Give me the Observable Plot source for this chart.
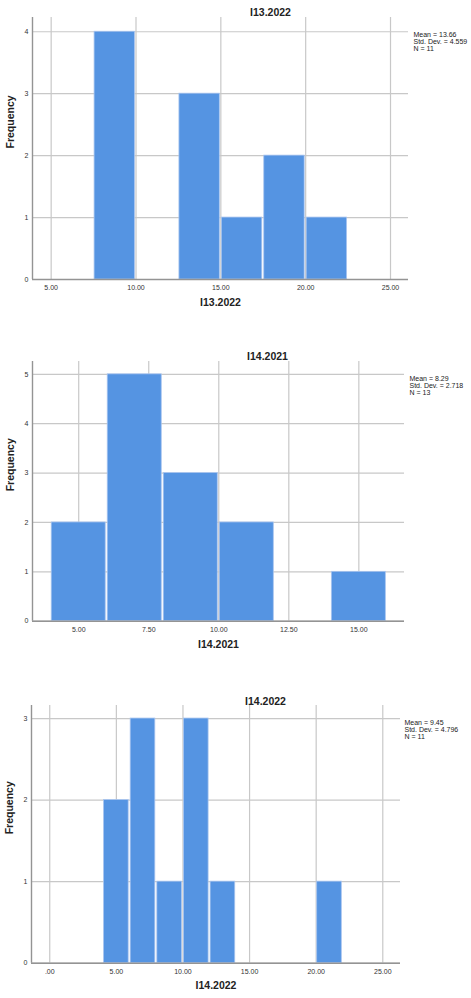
<!DOCTYPE html>
<html>
<head>
<meta charset="utf-8">
<script src="https://cdn.jsdelivr.net/npm/d3@7"></script>
<script src="https://cdn.jsdelivr.net/npm/@observablehq/plot@0.6"></script>
<style>
  html, body { margin: 0; padding: 0; background: #fff; }
  #charts svg { display: block; }
</style>
</head>
<body>
<div id="charts"></div>
<script>
// ---- Chart 1: I13.2022 ----
const c1Title = "I13.2022";
const c1BinStart = [7.5, 12.5, 15, 17.5, 20];
const c1BinEnd   = [10, 15, 17.5, 20, 22.5];
const c1Counts   = [4, 3, 1, 2, 1];
const c1XTicks   = [5, 10, 15, 20, 25];
const c1YTicks   = [0, 1, 2, 3, 4];
const c1Stats    = ["Mean = 13.66", "Std. Dev. = 4.559", "N = 11"];

// ---- Chart 2: I14.2021 ----
const c2Title = "I14.2021";
const c2BinStart = [4, 6, 8, 10, 14];
const c2BinEnd   = [6, 8, 10, 12, 16];
const c2Counts   = [2, 5, 3, 2, 1];
const c2XTicks   = [5, 7.5, 10, 12.5, 15];
const c2YTicks   = [0, 1, 2, 3, 4, 5];
const c2Stats    = ["Mean = 8.29", "Std. Dev. = 2.718", "N = 13"];

// ---- Chart 3: I14.2022 ----
const c3Title = "I14.2022";
const c3BinStart = [4, 6, 8, 10, 12, 20];
const c3BinEnd   = [6, 8, 10, 12, 14, 22];
const c3Counts   = [2, 3, 1, 3, 1, 1];
const c3XTicks   = [0, 5, 10, 15, 20, 25];
const c3YTicks   = [0, 1, 2, 3];
const c3Stats    = ["Mean = 9.45", "Std. Dev. = 4.796", "N = 11"];

const FONT = "'Liberation Sans', Arial, sans-serif";
const fmtX = d => d === 0 ? ".00" : d.toFixed(2);

function histogram(cfg) {
  const bins = cfg.start.map((s, i) => ({x1: s, x2: cfg.end[i], y: cfg.counts[i]}));
  return Plot.plot({
    width: 471,
    height: cfg.height,
    marginLeft: cfg.ml, marginRight: cfg.mr, marginTop: cfg.mt, marginBottom: cfg.mb,
    style: {fontFamily: FONT, background: "#fff", color: "#222"},
    x: {domain: cfg.xDomain},
    y: {domain: cfg.yDomain},
    marks: [
      Plot.gridX(cfg.xTicks, {stroke: "#c8c8c8", strokeOpacity: 1, strokeWidth: 1.2}),
      Plot.gridY(cfg.yTicks, {stroke: "#c8c8c8", strokeOpacity: 1, strokeWidth: 1.2}),
      Plot.rectY(bins, {x1: "x1", x2: "x2", y: "y", fill: "#5594e2", stroke: "#a9c5ef", strokeWidth: 0.8, insetLeft: 1, insetRight: 1}),
      Plot.ruleX([cfg.xDomain[0]], {stroke: "#949494", strokeWidth: 1.4}),
      Plot.ruleY([0], {stroke: "#949494", strokeWidth: 1.4}),
      Plot.axisX(cfg.xTicks, {tickFormat: fmtX, tickSize: 0, tickPadding: 5.5, fontSize: 7, label: null, fill: "#333"}),
      Plot.axisY(cfg.yTicks, {tickFormat: d => String(d), tickSize: 0, tickPadding: 4, fontSize: 7, label: null, fill: "#333"}),
      Plot.text([cfg.title], {text: d => d, frameAnchor: "top", dx: cfg.titleDx, dy: cfg.titleDy, fontSize: 10.5, fontWeight: "bold", fill: "#222"}),
      Plot.text([cfg.title], {text: d => d, frameAnchor: "bottom", dy: cfg.xLabDy, fontSize: 10.5, fontWeight: "bold", fill: "#222"}),
      Plot.text(["Frequency"], {text: d => d, frameAnchor: "left", rotate: -90, dx: -22, fontSize: 10.5, fontWeight: "bold", fill: "#222"}),
      Plot.text([cfg.stats.join("\n")], {text: d => d, frameAnchor: "top-right", textAnchor: "start", lineAnchor: "top", dx: cfg.statsDx, dy: 14, fontSize: 7, lineHeight: 1.05, fill: "#222"})
    ]
  });
}

const root = document.getElementById("charts");
root.append(histogram({
  title: c1Title, start: c1BinStart, end: c1BinEnd, counts: c1Counts,
  xTicks: c1XTicks, yTicks: c1YTicks, stats: c1Stats,
  height: 330, ml: 32, mr: 63, mt: 17, mb: 51,
  xDomain: [3.9, 26.06], yDomain: [0, 4.23],
  titleDx: 50, titleDy: -9, xLabDy: 26.7, statsDx: 5
}));
root.append(histogram({
  title: c2Title, start: c2BinStart, end: c2BinEnd, counts: c2Counts,
  xTicks: c2XTicks, yTicks: c2YTicks, stats: c2Stats,
  height: 335, ml: 32, mr: 67, mt: 31, mb: 44.3,
  xDomain: [3.35, 16.63], yDomain: [0, 5.26],
  titleDx: 49, titleDy: -9, xLabDy: 26.3, statsDx: 5
}));
root.append(histogram({
  title: c3Title, start: c3BinStart, end: c3BinEnd, counts: c3Counts,
  xTicks: c3XTicks, yTicks: c3YTicks, stats: c3Stats,
  height: 333, ml: 31, mr: 71, mt: 40, mb: 35.3,
  xDomain: [-1.37, 26.33], yDomain: [0, 3.16],
  titleDx: 49.5, titleDy: -8, xLabDy: 25.3, statsDx: 4
}));
</script>
</body>
</html>
